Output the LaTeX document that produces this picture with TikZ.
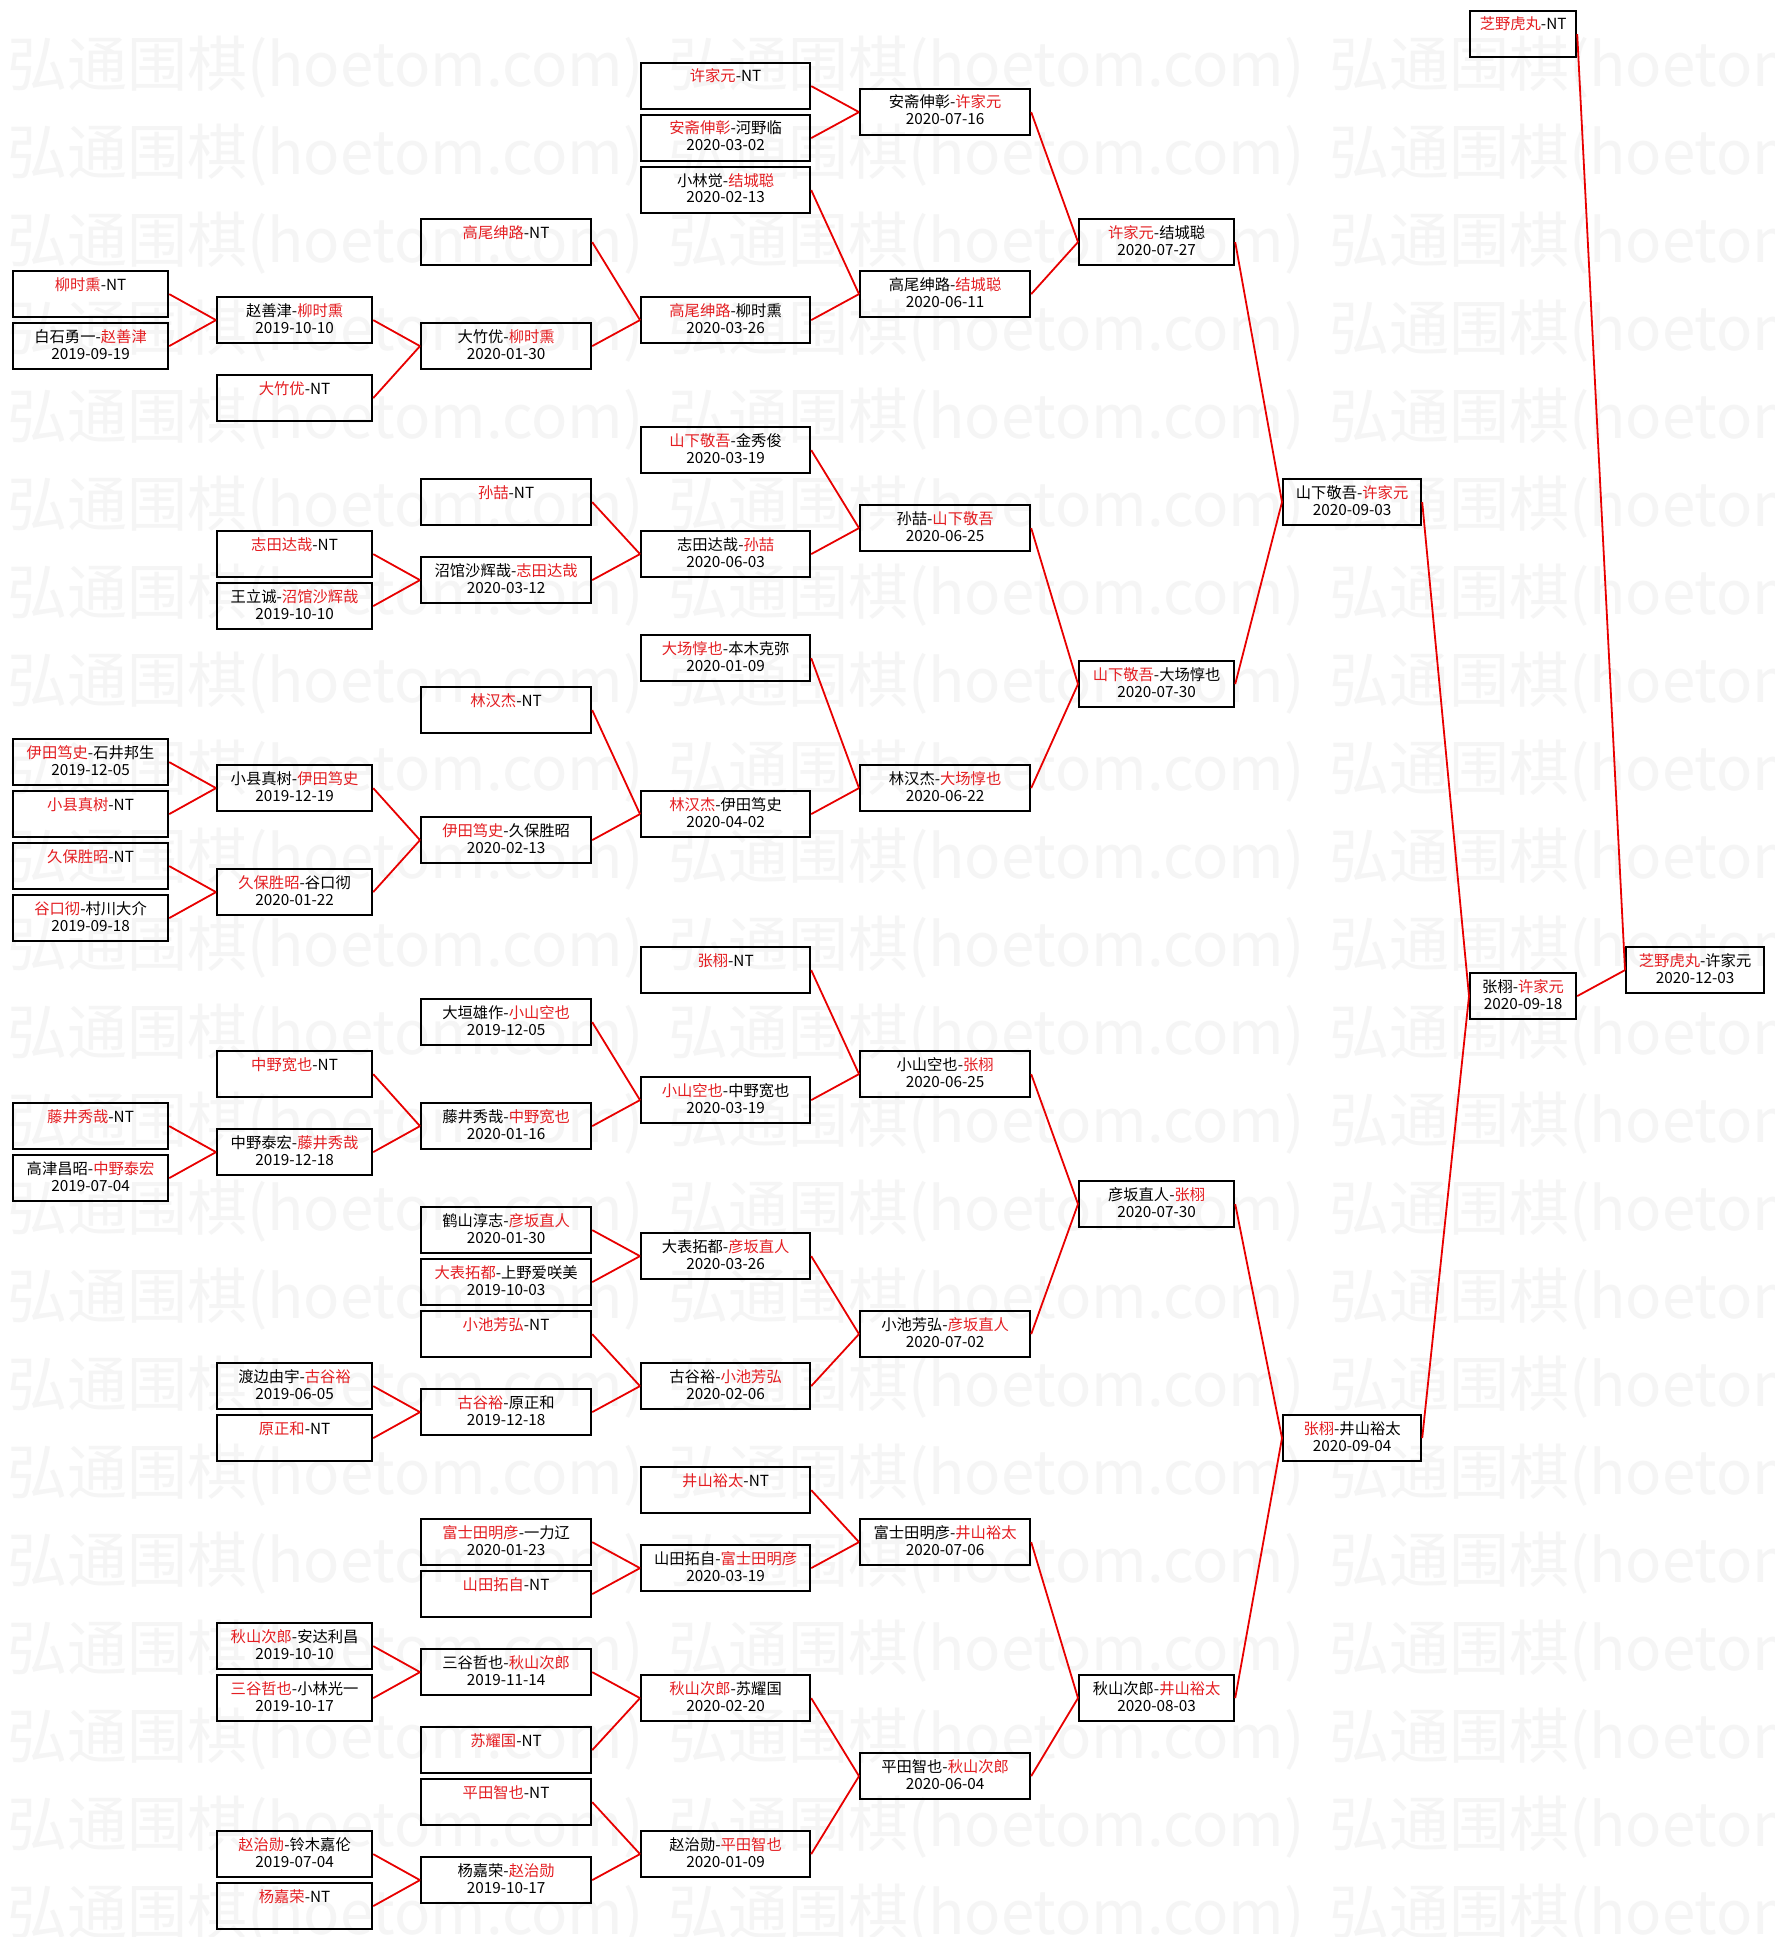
\documentclass[tikz,border=0pt]{standalone}
\usepackage{fontspec}
\setmainfont{Noto Sans CJK SC}
\definecolor{wred}{RGB}{228,30,34}
\definecolor{lred}{RGB}{232,0,0}
\definecolor{wmgray}{RGB}{245,245,245}
\newcommand\R[1]{\textcolor{wred}{#1}}
% name, x, w, row, line1, line2
\newcommand\gbx[6]{%
  \node[gbox, minimum width=#3pt] (#1) at (#2,{10+52*#4}) {};
  \node[gtxt] (#1a) at ([yshift=-20pt]#1.north) {#5};
  \node[gtxt] (#1b) at ([yshift=-37pt]#1.north) {#6};}
% name, x, w, row, line1 (no date)
\newcommand\gbn[5]{%
  \node[gbox, minimum width=#3pt] (#1) at (#2,{10+52*#4}) {};
  \node[gtxt] (#1a) at ([yshift=-20pt]#1.north) {#5};}
\newcommand\KA[4]{\gbx{#1}{12}{155}{#2}{#3}{#4}}
\newcommand\KAn[3]{\gbn{#1}{12}{155}{#2}{#3}}
\newcommand\KB[4]{\gbx{#1}{216}{155}{#2}{#3}{#4}}
\newcommand\KBn[3]{\gbn{#1}{216}{155}{#2}{#3}}
\newcommand\KC[4]{\gbx{#1}{420}{170}{#2}{#3}{#4}}
\newcommand\KCn[3]{\gbn{#1}{420}{170}{#2}{#3}}
\newcommand\KD[4]{\gbx{#1}{640}{169}{#2}{#3}{#4}}
\newcommand\KDn[3]{\gbn{#1}{640}{169}{#2}{#3}}
\newcommand\KE[4]{\gbx{#1}{859}{170}{#2}{#3}{#4}}
\newcommand\KF[4]{\gbx{#1}{1078}{155}{#2}{#3}{#4}}
\newcommand\KG[4]{\gbx{#1}{1282}{138}{#2}{#3}{#4}}
\newcommand\KH[4]{\gbx{#1}{1469}{106}{#2}{#3}{#4}}
\newcommand\KHn[3]{\gbn{#1}{1469}{106}{#2}{#3}}
\newcommand\KI[4]{\gbx{#1}{1625}{138}{#2}{#3}{#4}}
\begin{document}
\begin{tikzpicture}[x=1pt,y=-1pt,
  gbox/.style={draw=black, line width=2.2pt, minimum height=46pt, inner sep=0pt, anchor=north west},
  gtxt/.style={font=\fontsize{15.3}{18}\selectfont, inner sep=0pt, anchor=base},
  conn/.style={draw=lred, line width=1.8pt},
  wmk/.style={font=\fontsize{60}{60}\selectfont, text=wmgray, anchor=west, inner sep=0pt}]
\useasboundingbox (0,0) rectangle (1774,1937);
\fill[white] (0,0) rectangle (1774,1937);
\begin{scope}
\clip (0,0) rectangle (1774,1937);
\foreach \r in {0,...,21} \foreach \c in {0,1,2} {
  \node[wmk] (wm-\r-\c) at ({7+661*\c},{67+88*\r}) {弘通围棋(hoetom.com)};
}
\end{scope}
% column 0
\KAn{a10}{5}{\R{柳时熏}-NT}
\KA{a12}{6}{白石勇一-\R{赵善津}}{2019-09-19}
\KA{a28}{14}{\R{伊田笃史}-石井邦生}{2019-12-05}
\KAn{a30}{15}{\R{小县真树}-NT}
\KAn{a32}{16}{\R{久保胜昭}-NT}
\KA{a34}{17}{\R{谷口彻}-村川大介}{2019-09-18}
\KAn{a42}{21}{\R{藤井秀哉}-NT}
\KA{a44}{22}{高津昌昭-\R{中野泰宏}}{2019-07-04}
% column 1
\KB{b11}{5.5}{赵善津-\R{柳时熏}}{2019-10-10}
\KBn{b14}{7}{\R{大竹优}-NT}
\KBn{b20}{10}{\R{志田达哉}-NT}
\KB{b22}{11}{王立诚-\R{沼馆沙辉哉}}{2019-10-10}
\KB{b29}{14.5}{小县真树-\R{伊田笃史}}{2019-12-19}
\KB{b33}{16.5}{\R{久保胜昭}-谷口彻}{2020-01-22}
\KBn{b40}{20}{\R{中野宽也}-NT}
\KB{b43}{21.5}{中野泰宏-\R{藤井秀哉}}{2019-12-18}
\KB{b52}{26}{渡边由宇-\R{古谷裕}}{2019-06-05}
\KBn{b54}{27}{\R{原正和}-NT}
\KB{b62}{31}{\R{秋山次郎}-安达利昌}{2019-10-10}
\KB{b64}{32}{\R{三谷哲也}-小林光一}{2019-10-17}
\KB{b70}{35}{\R{赵治勋}-铃木嘉伦}{2019-07-04}
\KBn{b72}{36}{\R{杨嘉荣}-NT}
% column 2
\KCn{c8}{4}{\R{高尾绅路}-NT}
\KC{c12}{6}{大竹优-\R{柳时熏}}{2020-01-30}
\KCn{c18}{9}{\R{孙喆}-NT}
\KC{c21}{10.5}{沼馆沙辉哉-\R{志田达哉}}{2020-03-12}
\KCn{c26}{13}{\R{林汉杰}-NT}
\KC{c31}{15.5}{\R{伊田笃史}-久保胜昭}{2020-02-13}
\KC{c38}{19}{大垣雄作-\R{小山空也}}{2019-12-05}
\KC{c42}{21}{藤井秀哉-\R{中野宽也}}{2020-01-16}
\KC{c46}{23}{鹤山淳志-\R{彦坂直人}}{2020-01-30}
\KC{c48}{24}{\R{大表拓都}-上野爱咲美}{2019-10-03}
\KCn{c50}{25}{\R{小池芳弘}-NT}
\KC{c53}{26.5}{\R{古谷裕}-原正和}{2019-12-18}
\KC{c58}{29}{\R{富士田明彦}-一力辽}{2020-01-23}
\KCn{c60}{30}{\R{山田拓自}-NT}
\KC{c63}{31.5}{三谷哲也-\R{秋山次郎}}{2019-11-14}
\KCn{c66}{33}{\R{苏耀国}-NT}
\KCn{c68}{34}{\R{平田智也}-NT}
\KC{c71}{35.5}{杨嘉荣-\R{赵治勋}}{2019-10-17}
% column 3
\KDn{d2}{1}{\R{许家元}-NT}
\KD{d4}{2}{\R{安斋伸彰}-河野临}{2020-03-02}
\KD{d6}{3}{小林觉-\R{结城聪}}{2020-02-13}
\KD{d11}{5.5}{\R{高尾绅路}-柳时熏}{2020-03-26}
\KD{d16}{8}{\R{山下敬吾}-金秀俊}{2020-03-19}
\KD{d20}{10}{志田达哉-\R{孙喆}}{2020-06-03}
\KD{d24}{12}{\R{大场惇也}-本木克弥}{2020-01-09}
\KD{d30}{15}{\R{林汉杰}-伊田笃史}{2020-04-02}
\KDn{d36}{18}{\R{张栩}-NT}
\KD{d41}{20.5}{\R{小山空也}-中野宽也}{2020-03-19}
\KD{d47}{23.5}{大表拓都-\R{彦坂直人}}{2020-03-26}
\KD{d52}{26}{古谷裕-\R{小池芳弘}}{2020-02-06}
\KDn{d56}{28}{\R{井山裕太}-NT}
\KD{d59}{29.5}{山田拓自-\R{富士田明彦}}{2020-03-19}
\KD{d64}{32}{\R{秋山次郎}-苏耀国}{2020-02-20}
\KD{d70}{35}{赵治勋-\R{平田智也}}{2020-01-09}
% column 4
\KE{e3}{1.5}{安斋伸彰-\R{许家元}}{2020-07-16}
\KE{e10}{5}{高尾绅路-\R{结城聪}}{2020-06-11}
\KE{e19}{9.5}{孙喆-\R{山下敬吾}}{2020-06-25}
\KE{e29}{14.5}{林汉杰-\R{大场惇也}}{2020-06-22}
\KE{e40}{20}{小山空也-\R{张栩}}{2020-06-25}
\KE{e50}{25}{小池芳弘-\R{彦坂直人}}{2020-07-02}
\KE{e58}{29}{富士田明彦-\R{井山裕太}}{2020-07-06}
\KE{e67}{33.5}{平田智也-\R{秋山次郎}}{2020-06-04}
% column 5
\KF{f8}{4}{\R{许家元}-结城聪}{2020-07-27}
\KF{f25}{12.5}{\R{山下敬吾}-大场惇也}{2020-07-30}
\KF{f45}{22.5}{彦坂直人-\R{张栩}}{2020-07-30}
\KF{f64}{32}{秋山次郎-\R{井山裕太}}{2020-08-03}
% column 6
\KG{g18}{9}{山下敬吾-\R{许家元}}{2020-09-03}
\KG{g54}{27}{\R{张栩}-井山裕太}{2020-09-04}
% column 7
\KHn{h0}{0}{\R{芝野虎丸}-NT}
\KH{h37}{18.5}{张栩-\R{许家元}}{2020-09-18}
% column 8
\KI{i36}{18}{\R{芝野虎丸}-许家元}{2020-12-03}
% connectors
\foreach \p/\a/\b in {i36/h0/h37, h37/g18/g54, g18/f8/f25, g54/f45/f64,
  f8/e3/e10, f25/e19/e29, f45/e40/e50, f64/e58/e67,
  e3/d2/d4, e10/d6/d11, e19/d16/d20, e29/d24/d30, e40/d36/d41, e50/d47/d52, e58/d56/d59, e67/d64/d70,
  d11/c8/c12, d20/c18/c21, d30/c26/c31, d41/c38/c42, d47/c46/c48, d52/c50/c53, d59/c58/c60, d64/c63/c66, d70/c68/c71,
  c12/b11/b14, c21/b20/b22, c31/b29/b33, c42/b40/b43, c53/b52/b54, c63/b62/b64, c71/b70/b72,
  b11/a10/a12, b29/a28/a30, b33/a32/a34, b43/a42/a44} {
  \draw[conn] (\a.east) -- (\p.west);
  \draw[conn] (\b.east) -- (\p.west);
}
\end{tikzpicture}
\end{document}
